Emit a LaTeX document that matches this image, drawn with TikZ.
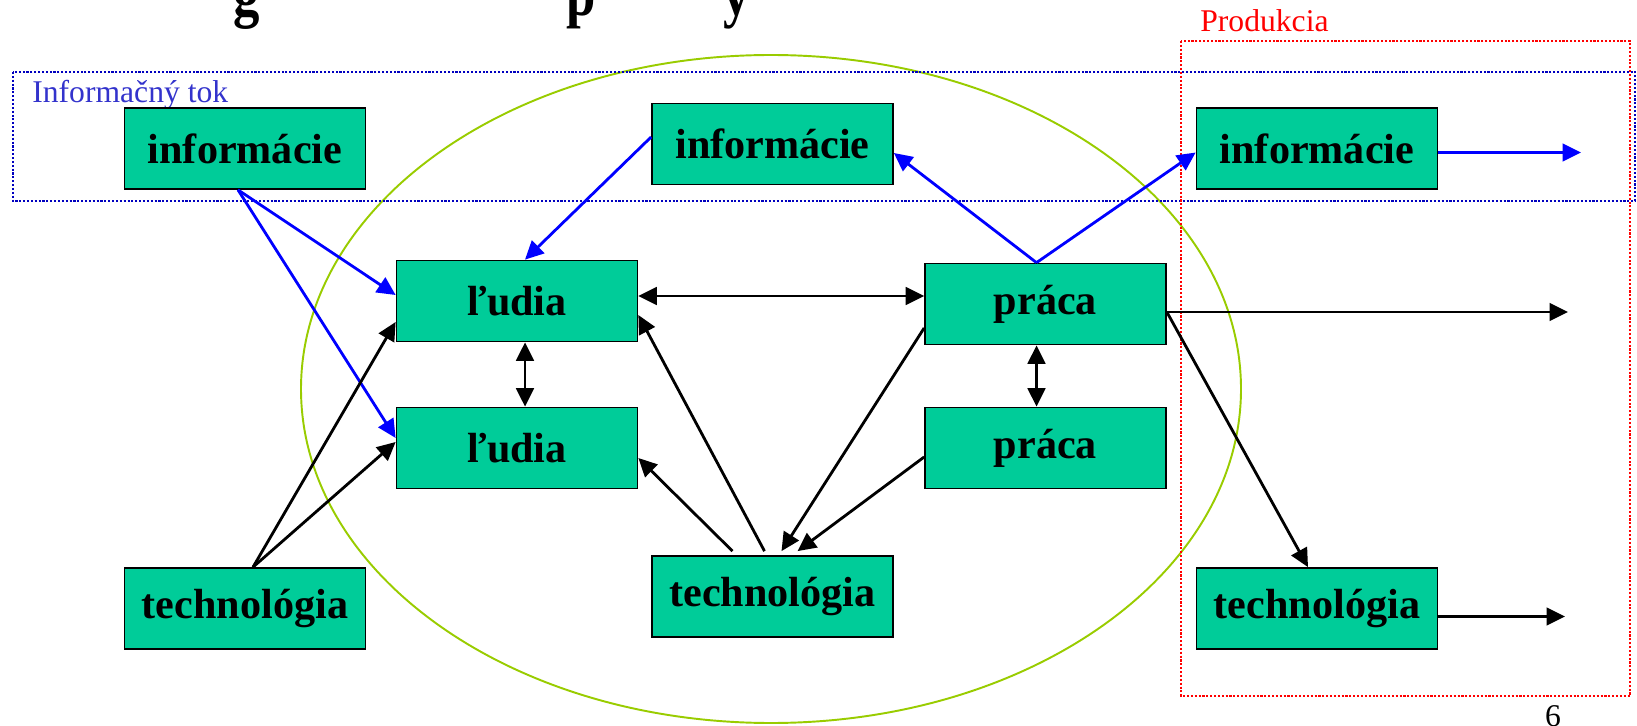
\documentclass[tikz,border=0pt]{standalone}
\usepackage{fontspec}
\setmainfont{Liberation Serif}
\usetikzlibrary{arrows.meta,calc}
\definecolor{boxgreen}{HTML}{00CC99}
\definecolor{elgreen}{HTML}{99CC00}
\definecolor{tokblue}{HTML}{3333CC}
\tikzset{
  blok/.style={draw, fill=boxgreen, line width=1pt, minimum width=4.82cm, minimum height=1.62cm, inner sep=0pt, font=\bfseries\fontsize{24}{28}\selectfont},
  sip/.style={line width=1.6pt, -{Triangle[length=10.5pt,width=10pt]}},
  dsip/.style={line width=1.6pt, {Triangle[length=10.5pt,width=10pt]}-{Triangle[length=10.5pt,width=10pt]}},
  modra/.style={sip, blue},
  ramik/.style={line width=1.2pt, dash pattern=on 1.2pt off 1pt},
  popis/.style={font=\fontsize{18}{21}\selectfont, anchor=base west, inner sep=0pt}
}
\begin{document}
\begin{tikzpicture}[x=0.02cm, y=-0.02cm]
\useasboundingbox (0,0) rectangle (1637,726);
\clip (0,0) rectangle (1637,726);
% zvysok nadpisu
\foreach \zn/\px in {g/247, p/581, y/737}
  \node[anchor=base, inner sep=0pt, font=\bfseries\fontsize{30}{34}\selectfont] (nad\zn) at (\px,16) {\scalebox{1}[1.2]{\zn}};
% elipsa a ramiky
\draw[elgreen, line width=1.1pt] (771,389) ellipse [x radius=470, y radius=334];
\draw[ramik, blue!75!black] (13,72) rectangle (1635,201);
\draw[ramik, red] (1181,41) rectangle (1630,696);
\node[popis, tokblue] (tok) at (32,103) {Informačný tok};
\node[popis, red] (prod) at (1200,32) {Produkcia};
\node[popis, anchor=base] (strana) at (1553,726) {6};
% bloky
\node[blok] (info1) at (245,148.5) {informácie};
\node[blok] (info2) at (772.5,144) {informácie};
\node[blok] (info3) at (1317,148.5) {informácie};
\node[blok] (ludia1) at (517,301) {ľudia};
\node[blok] (ludia2) at (517,448) {ľudia};
\node[blok] (praca1) at (1045.5,304) {práca};
\node[blok] (praca2) at (1045.5,448) {práca};
\node[blok] (tech1) at (245,608.5) {technológia};
\node[blok] (tech2) at (772.5,596.5) {technológia};
\node[blok] (tech3) at (1317,608.5) {technológia};
\coordinate (vystup1) at (1581,152.5);
\coordinate (vystup2) at (1568,312);
\coordinate (vystup3) at (1565,616.5);
% informacny tok
\draw[modra] ($(info1.south)+(-7,0)$) -- ($(ludia1.west)+(0,-6)$);
\draw[modra] ($(info1.south)+(-7,0)$) -- ($(ludia2.west)+(0,-10)$);
\draw[modra] ($(info2.west)+(0,-7)$) -- ($(ludia1.north)+(8,0)$);
\draw[modra] ($(praca1.north)+(-9,0)$) -- ($(info2.east)+(0,9)$);
\draw[modra] ($(praca1.north)+(-9,0)$) -- ($(info3.west)+(0,4)$);
\draw[modra] ($(info3.east)+(0,4)$) -- (vystup1);
% ostatne vazby
\draw[sip] ($(tech1.north)+(8,0)$) -- ($(ludia1.west)+(0,21)$);
\draw[sip] ($(tech1.north)+(8,0)$) -- ($(ludia2.west)+(0,-6)$);
\draw[dsip] ($(ludia1.east)+(0,-5)$) -- ($(praca1.west)+(0,-8)$);
\draw[dsip] ($(ludia1.south)+(8,0)$) -- ($(ludia2.north)+(8,0)$);
\draw[dsip] ($(praca1.south)+(-9,0)$) -- ($(praca2.north)+(-9,0)$);
\draw[sip] ($(praca1.east)+(0,8)$) -- (vystup2);
\draw[sip] ($(praca1.east)+(0,8)$) -- ($(tech3.north)+(-9,0)$);
\draw[sip] ($(tech3.east)+(0,8)$) -- (vystup3);
\draw[sip] ($(tech2.north)+(-40,-4)$) -- ($(ludia2.east)+(0,10)$);
\draw[sip] ($(tech2.north)+(-8,-4)$) -- ($(ludia1.east)+(0,14)$);
\draw[sip] ($(praca1.west)+(0,24)$) -- ($(tech2.north)+(9,-4)$);
\draw[sip] ($(praca2.west)+(0,9)$) -- ($(tech2.north)+(25,-4)$);
\end{tikzpicture}
\end{document}
